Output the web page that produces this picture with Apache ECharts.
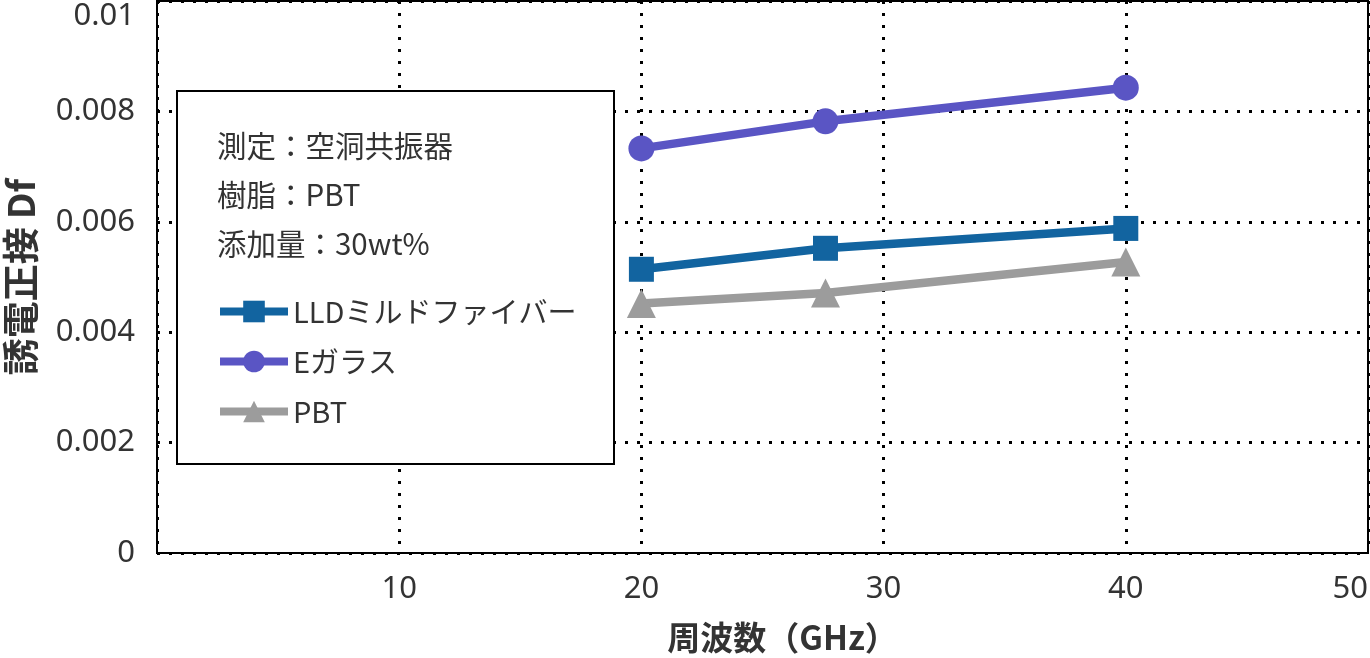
<!DOCTYPE html>
<html>
<head>
<meta charset="utf-8">
<style>
  html, body { margin: 0; padding: 0; background: #fff; }
  #chart { width: 1370px; height: 658px; }
</style>
<script src="https://cdn.jsdelivr.net/npm/echarts@6/dist/echarts.min.js"></script>
</head>
<body>
<div id="chart"></div>
<script>
var freq = [20, 27.6, 40];
var seriesNames = ['LLDミルドファイバー', 'Eガラス', 'PBT'];
var lldValues = [0.00514, 0.00552, 0.00588];
var eglassValues = [0.00733, 0.00782, 0.00843];
var pbtValues = [0.00452, 0.00471, 0.00527];
var noteLines = ['測定：空洞共振器', '樹脂：PBT', '添加量：30wt%'];
var xName = '周波数（GHz）';
var yName = '誘電正接 Df';

var font = "'Noto Sans CJK JP', 'Noto Sans', sans-serif";
var numFont = "'Noto Sans', 'Noto Sans CJK JP', sans-serif";
var ink = '#333';
var colors = ['#1264a0', '#5a55c4', '#9c9c9c'];
var symbols = ['rect', 'circle', 'triangle'];
var symbolSizes = [25, 26, 29];

function pairs(vals) {
  return freq.map(function (f, i) { return [f, vals[i]]; });
}

var chart = echarts.init(document.getElementById('chart'), null, { renderer: 'canvas' });

var gridLine = { show: true, lineStyle: { color: '#000', width: 3, type: [3, 9] } };

chart.setOption({
  animation: false,
  textStyle: { fontFamily: font },
  grid: {
    left: 157, right: 2, top: 1, bottom: 105,
    outerBoundsMode: 'none',
    containLabel: false,
    show: true, borderColor: '#000', borderWidth: 2, backgroundColor: '#fff'
  },
  xAxis: {
    type: 'value',
    min: 0, max: 50, interval: 10,
    name: xName,
    nameLocation: 'middle',
    nameGap: 68,
    nameTextStyle: { color: ink, fontSize: 33, fontWeight: 'bold', fontFamily: font, padding: [0, 0, 0, 40] },
    axisLine: { show: false },
    axisTick: { show: false },
    axisLabel: {
      color: ink, fontSize: 31, fontFamily: numFont, margin: 21,
      showMinLabel: false, alignMaxLabel: 'right'
    },
    splitLine: gridLine
  },
  yAxis: {
    type: 'value',
    min: 0, max: 0.01, interval: 0.002,
    name: yName,
    nameLocation: 'middle',
    nameRotate: 90,
    nameGap: 118,
    nameTextStyle: { color: ink, fontSize: 37, fontWeight: 'bold', fontFamily: font },
    axisLine: { show: false },
    axisTick: { show: false },
    axisLabel: {
      color: ink, fontSize: 31, fontFamily: numFont, margin: 22,
      verticalAlignMaxLabel: 'top',
      formatter: function (v) { return v === 0 ? '0' : String(+v.toFixed(3)); }
    },
    splitLine: gridLine
  },
  legend: {
    orient: 'vertical',
    left: 211, top: 292,
    z: 10,
    itemWidth: 68, itemHeight: 27, itemGap: 21,
    lineStyle: { width: 8 },
    textStyle: { color: ink, fontSize: 29, fontFamily: font, padding: [0, 0, 0, 0] },
    data: seriesNames
  },
  graphic: [{
    type: 'rect', z: 5,
    shape: { x: 177, y: 91, width: 437, height: 373 },
    style: { fill: '#fff', stroke: '#000', lineWidth: 2 }
  }].concat(noteLines.map(function (t, i) {
    return {
      type: 'text', z: 6,
      x: 217, y: 146 + i * 49,
      style: { text: t, fill: ink, fontSize: 29.5, fontFamily: font, verticalAlign: 'middle' }
    };
  })),
  series: [lldValues, eglassValues, pbtValues].map(function (vals, i) {
    return {
      name: seriesNames[i],
      type: 'line',
      data: pairs(vals),
      symbol: symbols[i],
      symbolSize: symbolSizes[i],
      showAllSymbol: true,
      lineStyle: { color: colors[i], width: 8.5 },
      itemStyle: { color: colors[i] },
      z: 3 + i
    };
  })
});
</script>
</body>
</html>
